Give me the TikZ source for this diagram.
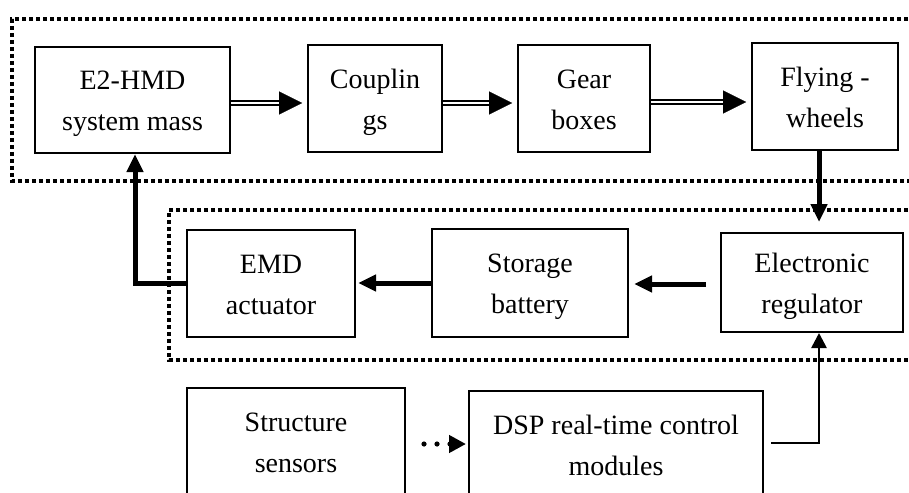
\documentclass[tikz,border=0pt]{standalone}
\usepackage{fontspec}
\setmainfont{Liberation Serif}
\usetikzlibrary{arrows.meta,calc}
% two text lines on fixed baselines, whatever letters they hold
\newcommand\blktext[2]{\rule{0pt}{14pt}#1\\#2\rule[-3.7pt]{0pt}{3.7pt}}
\begin{document}
\begin{tikzpicture}[x=0.5pt,y=-0.5pt,
  blk/.style={draw,line width=1pt,inner sep=0pt,align=center,
    font=\fontsize{14pt}{20.5pt}\selectfont},
  dotframe/.style={line width=1.6pt,dash pattern=on 1.8pt off 1.7pt},
  thk/.style={line width=2.5pt,-{Triangle[length=9pt,width=8pt]}},
  thn/.style={line width=1.3pt,-{Triangle[length=7.5pt,width=7.5pt]}},
  shaft/.style={double,line width=1pt,double distance=1pt},
  head/.style={line width=0.1pt,-{Triangle[length=11.5pt,width=11.5pt]}},
  dotarr/.style={line width=2.6pt,line cap=round,dash pattern=on 0pt off 6.5pt,
    -{Triangle[length=8.5pt,width=8.5pt]}}]

% canvas
\clip (0,0) rectangle (909,492);
\fill[white] (0,0) rectangle (909,492);

% dotted subsystem frames (open to the right)
\draw[dotframe] (915,19) -- (12,19) -- (12,181) -- (915,181);
\draw[dotframe] (915,210) -- (169,210) -- (169,360) -- (915,360);

% blocks
\node[blk,minimum width=97.5pt,minimum height=53pt]   (e2)  at (132.5,100) {\blktext{E2-HMD}{system mass}};
\node[blk,minimum width=67pt,minimum height=53.5pt]   (cp)  at (375,98.5)  {\blktext{Couplin}{gs}};
\node[blk,minimum width=66pt,minimum height=53.5pt]   (gb)  at (584,98.5)  {\blktext{Gear}{boxes}};
\node[blk,minimum width=73pt,minimum height=53.5pt]   (fw)  at (825,96.5)  {\blktext{Flying -}{wheels}};
\node[blk,minimum width=84pt,minimum height=53.5pt]   (emd) at (271,283.5) {\blktext{EMD}{actuator}};
\node[blk,minimum width=98pt,minimum height=54pt]     (sb)  at (530,283)   {\blktext{Storage}{battery}};
\node[blk,minimum width=91pt,minimum height=49.5pt]   (er)  at (812,282.5) {\blktext{Electronic}{regulator}};
\node[blk,minimum width=109pt,minimum height=53.5pt]  (ss)  at (296,441.5) {\blktext{Structure}{sensors}};
\node[blk,minimum width=147pt,minimum height=53.5pt]  (dsp) at (616,444.5) {\blktext{DSP real-time control}{modules}};

% reference levels for connectors
\coordinate (ya) at (0,103);
\coordinate (yb) at (0,102);
\coordinate (ym) at (0,284);
\coordinate (yn) at (0,283);
\coordinate (yd) at (0,443);
\coordinate (ye) at (0,444);
\coordinate (xr) at (819,0);
\coordinate (xl) at (135,0);

% double-line mechanical links
\newcommand\dblarrow[3]{%
  \draw[shaft] (#1.east |- #3) -- ($(#2.west |- #3)+(-13.5pt,0)$);
  \draw[head] ($(#2.west |- #3)+(-14pt,0)$) -- ($(#2.west |- #3)+(-2.5pt,0)$);}
\dblarrow{e2}{cp}{ya}
\dblarrow{cp}{gb}{ya}
\dblarrow{gb}{fw}{yb}

% energy path
\draw[thk,shorten >=5pt] (fw.south -| xr) -- (er.north -| xr);
\draw[thk,shorten <=7pt,shorten >=2.5pt] (er.west |- ym) -- (sb.east |- ym);
\draw[thk,shorten >=1pt] (sb.west |- yn) -- (emd.east |- yn);
\draw[thk] (emd.west |- yn) -| (e2.south -| xl);

% control path
\draw[thn,shorten <=3.5pt] (dsp.east |- yd) -| (er.south -| xr);
\draw[dotarr,shorten <=9pt,shorten >=1pt] (ss.east |- ye) -- (dsp.west |- ye);
\end{tikzpicture}
\end{document}
